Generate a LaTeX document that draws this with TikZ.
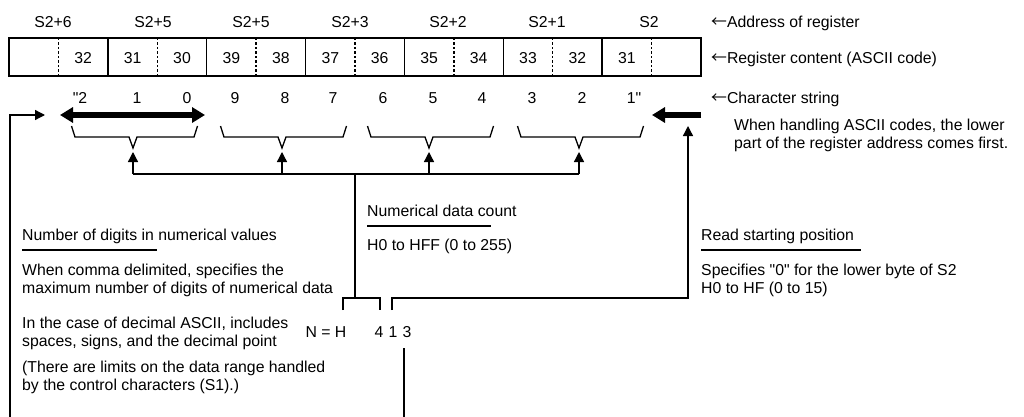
\documentclass[tikz,border=0pt]{standalone}
\usepackage{fontspec}
\setmainfont{Liberation Sans}[Ligatures=TeXOff]
\newfontfamily\cjkarrow{Noto Sans CJK JP}
\usetikzlibrary{arrows.meta}
\newcommand\larr{{\cjkarrow ←}}
\begin{document}
\begin{tikzpicture}[x=1pt,y=-1pt,
  lbl/.style={font=\fontsize{15.8}{18}\selectfont, inner sep=0pt},
  txt/.style={lbl, anchor=base west},
  ctr/.style={lbl, anchor=base},
  thinline/.style={line width=1.3pt},
  cellline/.style={line width=1.5pt},
  dsh/.style={line width=1.3pt, dash pattern=on 2.5pt off 2pt},
  bigtip/.style={line width=5pt},
  smallarrow/.style={thinline, -{Triangle[length=10pt,width=10pt]}}
]
\useasboundingbox (0,0) rectangle (1024,417);
\fill[white] (0,0) rectangle (1024,417);

% register box
\draw[cellline] (9,38) rectangle (701,76);
\foreach \i in {1,...,6} \draw[cellline] ({9+98.857*\i},38) -- ({9+98.857*\i},76);
\foreach \i in {0,...,6} \draw[dsh] ({58.43+98.857*\i},38) -- ({58.43+98.857*\i},76);

% addresses
\foreach \x/\t [count=\n] in {53/S2+6, 153/S2+5, 251/S2+5, 350/S2+3, 448/S2+2, 547/S2+1, 649/S2}
  \node[ctr] (addr\n) at (\x,28) {\t};

% cell contents
\foreach \x/\t [count=\n] in {83.1/32, 132.6/31, 182.0/30, 231.4/39, 280.9/38, 330.3/37, 379.7/36, 429.1/35, 478.6/34, 528.0/33, 577.4/32, 626.9/31}
  \node[ctr] (code\n) at (\x,64) {\t};

% character string
\foreach \x/\t [count=\n] in {80/"2, 137/1, 187/0, 235/9, 285/8, 333/7, 383/6, 433/5, 482/4, 532/3, 582/2, 634/1"}
  \node[ctr] (chr\n) at (\x,103) {\t};

% right labels
\node[txt] (lab1) at (711,28) {\larr Address of register};
\node[txt] (lab2) at (711,64) {\larr Register content (ASCII code)};
\node[txt] (lab3) at (711,103) {\larr Character string};
\node[txt] (lab4) at (734,130) {When handling ASCII codes, the lower};
\node[txt] (lab5) at (734,148) {part of the register address comes first.};

% thick arrows
\coordinate (dL) at (60,115);
\coordinate (dR) at (205,115);
\draw[bigtip, {Triangle[length=13pt,width=15pt]}-{Triangle[length=13pt,width=15pt]}] (dL) -- (dR);
\coordinate (rS) at (701,115);
\coordinate (rE) at (652,115);
\draw[bigtip, -{Triangle[length=13pt,width=15pt]}] (rS) -- (rE);

% left return arrow
\coordinate (lb) at (10,417);
\coordinate (lc) at (10,115);
\coordinate (le) at (45,115);
\draw[smallarrow] (lb) -- (lc) -- (le);

% brackets
\foreach \c [count=\n] in {133,282,429,579} {
  \draw[thinline] (\c-61.5,126) -- (\c-58,137) -- (\c-4,137) -- (\c,148) -- (\c+4,137) -- (\c+61,137) -- (\c+64.5,126);
  \coordinate (tip\n) at (\c,152);
  \coordinate (hb\n) at (\c,174);
  \draw[smallarrow] (hb\n) -- (tip\n);
}
\draw[thinline] (hb1) -- (hb4);

% count connector
\coordinate (mv) at (355,174);
\coordinate (mb) at (355,298);
\draw[thinline] (mv) -- (mb);
\draw[thinline] (343,310) -- (343,298) -- (380,298) -- (380,310);

% start position connector
\coordinate (sb) at (392,310);
\coordinate (sc) at (392,298);
\coordinate (sd) at (688,298);
\coordinate (se) at (688,126);
\draw[smallarrow] (sb) -- (sc) -- (sd) -- (se);

% N = H 4 1 3
\node[ctr] (nh) at (326,337) {N = H};
\node[ctr] (d4) at (379,337) {4};
\node[ctr] (d1) at (393,337) {1};
\node[ctr] (d3) at (407,337) {3};
\coordinate (vt) at (404,348);
\coordinate (vb) at (404,417);
\draw[thinline] (vt) -- (vb);

% middle text
\node[txt] (mt1) at (367,216) {Numerical data count};
\draw[thinline] (367,226) -- (491,226);
\node[txt] (mt2) at (367,250) {H0 to HFF (0 to 255)};

% left text
\node[txt] (lt1) at (22,240) {Number of digits in numerical values};
\draw[thinline] (22,250) -- (157,250);
\node[txt] (lt2) at (22,275) {When comma delimited, specifies the};
\node[txt] (lt3) at (22,293) {maximum number of digits of numerical data};
\node[txt] (lt4) at (22,328) {In the case of decimal ASCII, includes};
\node[txt] (lt5) at (22,346) {spaces, signs, and the decimal point};
\node[txt] (lt6) at (22,372) {(There are limits on the data range handled};
\node[txt] (lt7) at (22,390) {by the control characters (S1).)};

% right text
\node[txt] (rt1) at (701,240) {Read starting position};
\draw[thinline] (701,250) -- (861,250);
\node[txt] (rt2) at (701,275) {Specifies "0" for the lower byte of S2};
\node[txt] (rt3) at (701,293) {H0 to HF (0 to 15)};
\end{tikzpicture}
\end{document}
